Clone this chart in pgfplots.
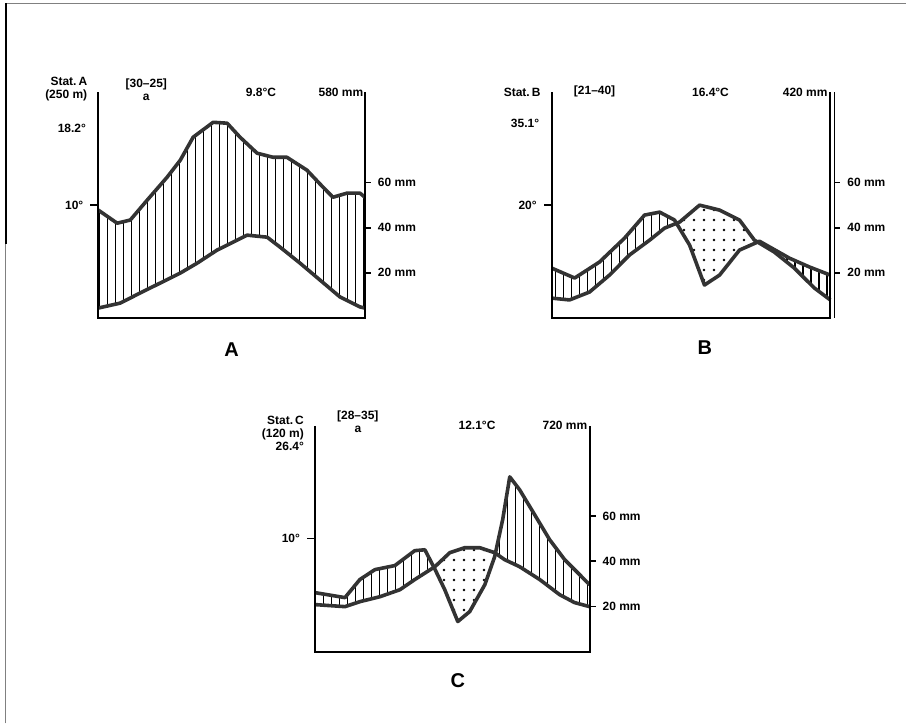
\documentclass[border=0pt]{standalone}
\usepackage{fontspec}
\setmainfont{Liberation Sans}
\usepackage{pgfplots}
\usepackage{pgfplotstable}
\pgfplotsset{compat=1.18}
\usepgfplotslibrary{fillbetween}
\usetikzlibrary{patterns}

\pgfdeclarepatternformonly{vlinesw}{\pgfpoint{-1pt}{-1pt}}{\pgfpoint{5pt}{5pt}}{\pgfpoint{4pt}{4pt}}%
{\pgfsetlinewidth{0.6pt}\pgfpathmoveto{\pgfpoint{2pt}{-1pt}}\pgfpathlineto{\pgfpoint{2pt}{5pt}}\pgfusepath{stroke}}
\pgfdeclarepatternformonly{sparsedots}{\pgfpointorigin}{\pgfpoint{5pt}{5pt}}{\pgfpoint{5pt}{5pt}}%
{\pgfpathcircle{\pgfpoint{2.5pt}{2.5pt}}{0.7pt}\pgfusepath{fill}}

% Panel A
\pgfplotstableread{
m p
0 47.8
0.85 42.0
1.44 43.4
2.20 52.2
3.10 62.4
3.69 69.9
4.27 80.1
5.17 86.7
5.80 86.3
6.38 80.1
7.15 73.0
7.87 71.2
8.49 71.2
9.39 65.5
10.11 58.0
10.56 53.5
11.19 55.3
11.78 55.3
12 53.5
}\PA
\pgfplotstableread{
m t
0 4.4
0.99 6.6
1.89 11.1
2.79 15.5
3.69 19.9
4.45 24.3
5.35 30.1
6.07 33.6
6.70 36.7
7.60 35.8
8.18 31.4
9.08 24.3
9.98 16.8
10.88 9.3
11.78 4.9
12 4.4
}\TA
% Panel B
\pgfplotstableread{
m p
0 22.1
0.99 17.7
2.06 24.8
3.14 35.4
4.00 45.6
4.65 46.9
5.29 43.4
5.94 32.3
6.58 14.6
7.23 19.0
8.09 30.1
8.95 34.0
10.24 26.5
11.10 22.6
12 19.0
}\PB
\pgfplotstableread{
m t
0 8.8
0.77 8.0
1.63 11.5
2.49 19.0
3.35 27.9
4.22 34.5
4.86 39.8
5.51 42.5
6.37 50.0
7.23 47.8
8.09 43.4
8.73 34.5
9.59 29.2
10.45 22.1
11.31 13.3
12 8.0
}\TB
% Panel C
\pgfplotstableread{
m p
0 26.1
1.31 23.9
1.96 31.9
2.62 36.3
3.49 38.1
4.36 44.7
4.80 45.1
5.24 36.5
5.67 27.4
6.24 13.3
6.76 17.7
7.42 29.6
7.85 42.0
8.20 58.4
8.51 77.4
8.94 71.7
9.60 60.6
10.25 49.6
10.91 40.7
11.56 34.1
12 29.6
}\PC
\pgfplotstableread{
m t
0 20.8
1.31 19.9
1.96 22.1
2.84 24.3
3.71 27.4
4.36 31.9
5.24 37.6
5.89 43.8
6.54 46.0
7.20 46.0
7.85 43.8
8.29 40.7
8.94 37.6
9.82 31.9
10.69 25.2
11.34 21.7
12 19.9
}\TC

\pgfplotsset{
  walter/.style={
    scale only axis, height=113pt,
    xmin=0, xmax=12, ymin=0, ymax=100,
    hide axis, clip=false,
  },
  curve/.style={black!80, line width=1.8pt, line join=round},
  humid/.style={pattern=vlinesw, pattern color=black, draw=none},
  arid/.style={pattern=sparsedots, pattern color=black, draw=none},
}
\newcommand{\frameaxis}{%
  \draw[line width=1pt] (rel axis cs:0,1) -- (rel axis cs:0,0) -- (rel axis cs:1,0) -- (rel axis cs:1,1);}
\newcommand{\rticks}[1]{%
  \draw[line width=0.8pt] (axis cs:12,60) ++(#1,0) -- ++(3pt,0);
  \draw[line width=0.8pt] (axis cs:12,40) ++(#1,0) -- ++(3pt,0);
  \draw[line width=0.8pt] (axis cs:12,20) ++(#1,0) -- ++(3pt,0);}
\newcommand{\lbl}{\fontsize{6}{6.5}\selectfont\bfseries}

\begin{document}
\begin{tikzpicture}
\draw[white] (0,0) rectangle (453.5pt,362pt);
\draw[gray, line width=0.8pt] (2.5pt,0) -- (2.5pt,360.5pt) -- (453.5pt,360.5pt);
\draw[black, line width=0.8pt] (2.8pt,240pt) -- (2.8pt,360.5pt);

% ---------------- Panel A
\begin{axis}[walter, width=133.5pt, at={(49pt,203pt)}, anchor=south west]
\addplot[curve, name path=PA] table[x=m,y=p]{\PA};
\addplot[curve, name path=TA] table[x=m,y=t]{\TA};
\addplot[humid] fill between[of=PA and TA];
\frameaxis
\draw[line width=0.8pt] (axis cs:0,50) -- ++(-4pt,0);
\rticks{0pt}
\node[anchor=south east, align=right, font=\lbl] at (rel axis cs:-0.015,0.93) {Stat.\,A\\(250 m)};
\node[anchor=east, font=\lbl] at (rel axis cs:-0.02,0.84) {18.2°};
\node[anchor=east, font=\lbl, xshift=-4pt] at (axis cs:0,50) {10°};
\node[anchor=south, align=center, font=\lbl] at (rel axis cs:0.18,0.93) {[30--25]\\ a};
\node[anchor=south, font=\lbl] at (rel axis cs:0.61,0.95) {9.8°C};
\node[anchor=south, font=\lbl] at (rel axis cs:0.91,0.95) {580 mm};
\node[anchor=west, font=\lbl, xshift=3pt] at (axis cs:12,60) {60 mm};
\node[anchor=west, font=\lbl, xshift=3pt] at (axis cs:12,40) {40 mm};
\node[anchor=west, font=\lbl, xshift=3pt] at (axis cs:12,20) {20 mm};
\node[font=\fontsize{10}{11}\selectfont\bfseries] at (rel axis cs:0.5,-0.14) {A};
\end{axis}

% ---------------- Panel B
\begin{axis}[walter, width=139.5pt, at={(276pt,203pt)}, anchor=south west]
\addplot[curve, name path=PB] table[x=m,y=p]{\PB};
\addplot[curve, name path=TB] table[x=m,y=t]{\TB};
\addplot fill between[of=PB and TB, split,
  every segment no 0/.style={humid},
  every segment no 1/.style={arid},
  every segment no 2/.style={humid}];
\frameaxis
\draw[line width=0.8pt] (rel axis cs:1,0) ++(2pt,0) -- ++(0,113pt);
\draw[line width=0.8pt] (axis cs:0,50) -- ++(-4pt,0);
\rticks{2pt}
\node[anchor=south east, align=right, font=\lbl] at (rel axis cs:-0.015,0.95) {Stat.\,B};
\node[anchor=east, font=\lbl] at (rel axis cs:-0.02,0.86) {35.1°};
\node[anchor=east, font=\lbl, xshift=-4pt] at (axis cs:0,50) {20°};
\node[anchor=south, font=\lbl] at (rel axis cs:0.154,0.95) {[21--40]};
\node[anchor=south, font=\lbl] at (rel axis cs:0.57,0.95) {16.4°C};
\node[anchor=south, font=\lbl] at (rel axis cs:0.91,0.95) {420 mm};
\node[anchor=west, font=\lbl, xshift=5pt] at (axis cs:12,60) {60 mm};
\node[anchor=west, font=\lbl, xshift=5pt] at (axis cs:12,40) {40 mm};
\node[anchor=west, font=\lbl, xshift=5pt] at (axis cs:12,20) {20 mm};
\node[font=\fontsize{10}{11}\selectfont\bfseries] at (rel axis cs:0.55,-0.13) {B};
\end{axis}

% ---------------- Panel C
\begin{axis}[walter, width=137.5pt, at={(157.5pt,36pt)}, anchor=south west]
\addplot[curve, name path=PC] table[x=m,y=p]{\PC};
\addplot[curve, name path=TC] table[x=m,y=t]{\TC};
\addplot fill between[of=PC and TC, split,
  every segment no 0/.style={humid},
  every segment no 1/.style={arid},
  every segment no 2/.style={humid}];
\frameaxis
\draw[line width=0.8pt] (axis cs:0,50) -- ++(-4pt,0);
\rticks{0pt}
\node[anchor=south east, align=right, font=\lbl] at (rel axis cs:-0.015,0.86) {Stat.\,C\\(120 m)\\ 26.4°};
\node[anchor=east, font=\lbl, xshift=-4pt] at (axis cs:0,50) {10°};
\node[anchor=south, align=center, font=\lbl] at (rel axis cs:0.156,0.94) {[28--35]\\ a};
\node[anchor=south, font=\lbl] at (rel axis cs:0.59,0.95) {12.1°C};
\node[anchor=south, font=\lbl] at (rel axis cs:0.91,0.95) {720 mm};
\node[anchor=west, font=\lbl, xshift=3pt] at (axis cs:12,60) {60 mm};
\node[anchor=west, font=\lbl, xshift=3pt] at (axis cs:12,40) {40 mm};
\node[anchor=west, font=\lbl, xshift=3pt] at (axis cs:12,20) {20 mm};
\node[font=\fontsize{10}{11}\selectfont\bfseries] at (rel axis cs:0.52,-0.13) {C};
\end{axis}
\end{tikzpicture}
\end{document}
